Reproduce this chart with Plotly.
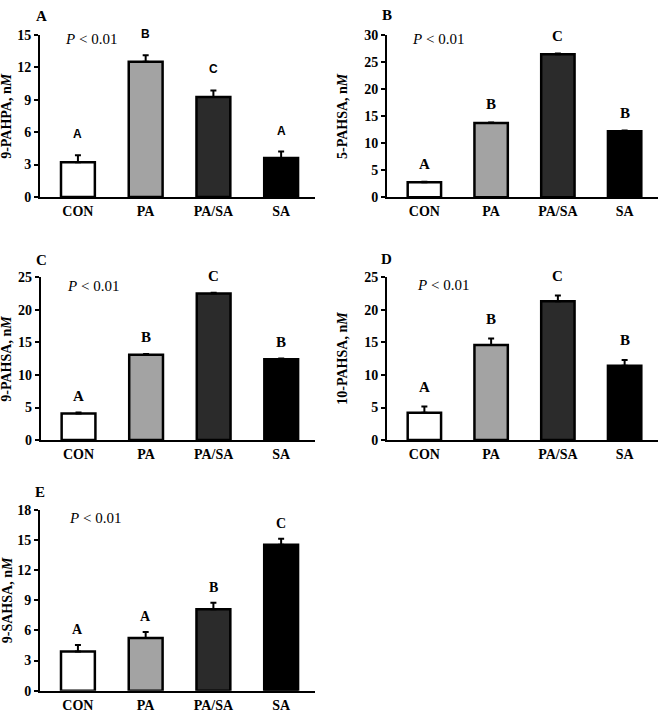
import plotly.graph_objects as go

W, H = 660, 721

categories = ["CON", "PA", "PA/SA", "SA"]
bar_colors = ["#ffffff", "#a3a3a3", "#2b2b2b", "#000000"]

# Panel A: 9-PAHPA
a_vals = [3.2, 12.5, 9.25, 3.6]
a_err = [0.65, 0.6, 0.6, 0.6]
a_letters = ["A", "B", "C", "A"]
# Panel B: 5-PAHSA
b_vals = [2.75, 13.7, 26.4, 12.2]
b_err = [0.12, 0.12, 0.12, 0.12]
b_letters = ["A", "B", "C", "B"]
# Panel C: 9-PAHSA
c_vals = [4.1, 13.1, 22.5, 12.4]
c_err = [0.12, 0.12, 0.12, 0.12]
c_letters = ["A", "B", "C", "B"]
# Panel D: 10-PAHSA
d_vals = [4.2, 14.6, 21.3, 11.4]
d_err = [0.95, 1.0, 0.9, 0.9]
d_letters = ["A", "B", "C", "B"]
# Panel E: 9-SAHSA
e_vals = [3.9, 5.25, 8.1, 14.5]
e_err = [0.65, 0.6, 0.65, 0.6]
e_letters = ["A", "A", "B", "C"]

panels = [
    dict(tag="A", vals=a_vals, err=a_err, letters=a_letters, ytitle="9-PAHPA, n<i>M</i>",
         ymax=15, dtick=3, xd=(40, 315), yd=(28.3, 194), lfont="Liberation Sans", lsize=12,
         lshift=12, title_x=7, p_x=63, p_y=33, tag_xy=(42, 9)),
    dict(tag="B", vals=b_vals, err=b_err, letters=b_letters, ytitle="5-PAHSA, n<i>M</i>",
         ymax=30, dtick=5, xd=(387, 658), yd=(28.3, 194.3), lfont="Liberation Serif", lsize=15,
         lshift=8, title_x=343, p_x=410, p_y=33, tag_xy=(387, 8)),
    dict(tag="C", vals=c_vals, err=c_err, letters=c_letters, ytitle="9-PAHSA, n<i>M</i>",
         ymax=25, dtick=5, xd=(40.7, 315), yd=(276, 442.3), lfont="Liberation Serif", lsize=15,
         lshift=7, title_x=7, p_x=65, p_y=285, tag_xy=(41, 258)),
    dict(tag="D", vals=d_vals, err=d_err, letters=d_letters, ytitle="10-PAHSA, n<i>M</i>",
         ymax=25, dtick=5, xd=(387, 658), yd=(276, 442.3), lfont="Liberation Serif", lsize=15,
         lshift=9.5, title_x=343, p_x=415, p_y=284, tag_xy=(387, 257)),
    dict(tag="E", vals=e_vals, err=e_err, letters=e_letters, ytitle="9-SAHSA, n<i>M</i>",
         ymax=18, dtick=3, xd=(40, 315), yd=(513.3, 698.3), lfont="Liberation Serif", lsize=14,
         lshift=6, title_x=7, p_x=67, p_y=522, tag_xy=(40, 495)),
]

FONT = "Liberation Serif"

def px_x(x):
    return x / W

def px_y(y):
    return 1 - y / H

fig = go.Figure()
annotations = []
layout = {}

for i, p in enumerate(panels):
    n = "" if i == 0 else str(i + 1)
    xa, ya = "x" + n, "y" + n
    fig.add_trace(go.Bar(
        x=categories, y=p["vals"], xaxis=xa, yaxis=ya, width=0.5,
        marker=dict(color=bar_colors, line=dict(color="black", width=2.5)),
        error_y=dict(type="data", symmetric=False, array=p["err"],
                     arrayminus=[0] * len(p["err"]), color="black", thickness=2, width=3),
        showlegend=False,
    ))
    layout["xaxis" + n] = dict(
        domain=[px_x(p["xd"][0]), px_x(p["xd"][1])], anchor=ya,
        type="category", categoryorder="array", categoryarray=categories,
        range=[-0.56, 3.5], showline=True, linecolor="black", linewidth=2,
        ticks="", showgrid=False, zeroline=False,
        tickfont=dict(family=FONT, size=14, color="black", weight="bold"),
    )
    layout["yaxis" + n] = dict(
        domain=[px_y(p["yd"][1]), px_y(p["yd"][0])], anchor=xa,
        range=[0, p["ymax"]], dtick=p["dtick"], tick0=0,
        showline=True, linecolor="black", linewidth=2,
        ticks="outside", ticklen=4, tickwidth=2, tickcolor="black",
        showgrid=False, zeroline=False,
        tickfont=dict(family=FONT, size=14, color="black", weight="bold"),
    )
    annotations.append(dict(
        xref="paper", yref="paper", x=px_x(p["title_x"]),
        y=px_y((p["yd"][0] + p["yd"][1]) / 2), text="<b>" + p["ytitle"] + "</b>",
        textangle=-90, showarrow=False, xanchor="center", yanchor="middle",
        font=dict(family=FONT, size=14, color="black"),
    ))
    annotations.append(dict(
        xref="paper", yref="paper", x=px_x(p["p_x"]), y=px_y(p["p_y"]),
        text="<i>P</i> < 0.01", showarrow=False, xanchor="left", yanchor="middle",
        font=dict(family=FONT, size=15, color="black"),
    ))
    annotations.append(dict(
        xref="paper", yref="paper", x=px_x(p["tag_xy"][0]), y=px_y(p["tag_xy"][1]),
        text="<b>" + p["tag"] + "</b>", showarrow=False, xanchor="center", yanchor="middle",
        font=dict(family=FONT, size=15, color="black"),
    ))
    for c, v, e, l in zip(categories, p["vals"], p["err"], p["letters"]):
        annotations.append(dict(
            xref=xa, yref=ya, x=c, y=v + e, text="<b>" + l + "</b>",
            showarrow=False, xanchor="center", yanchor="bottom", yshift=p["lshift"],
            font=dict(family=p["lfont"], size=p["lsize"], color="black"),
        ))

fig.update_layout(
    width=W, height=H, margin=dict(l=0, r=0, t=0, b=0),
    paper_bgcolor="white", plot_bgcolor="white",
    annotations=annotations, bargap=0.5, **layout,
)

fig.write_html("out.html")
